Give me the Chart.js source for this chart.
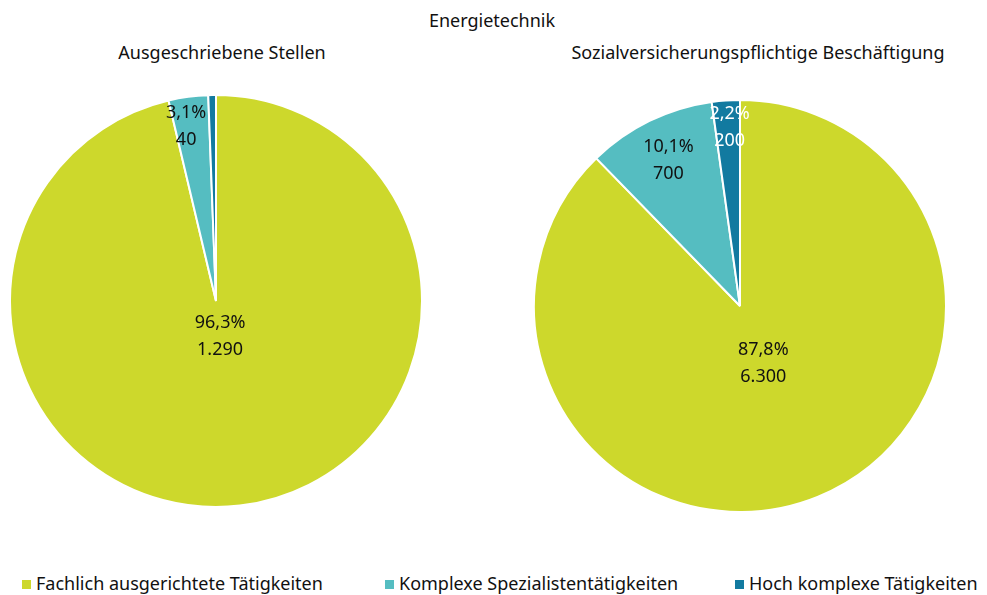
<!DOCTYPE html>
<html>
<head>
<meta charset="utf-8">
<script src="https://cdn.jsdelivr.net/npm/chart.js@4"></script>
<style>
  body { margin: 0; background: #fff; font-family: "Noto Sans", sans-serif; color: #111; }
  #wrap { position: relative; width: 987px; height: 595px; overflow: hidden; }
  .txt { position: absolute; font-size: 18px; white-space: nowrap; transform: translateX(-50%); }
  .box { position: absolute; }
  #legend { position: absolute; top: 571px; left: 0; width: 987px; font-size: 18px; }
  .item { position: absolute; white-space: nowrap; }
  .item span.sw { display: inline-block; width: 9px; height: 9px; margin-right: 5px; vertical-align: 1px; }
</style>
</head>
<body>
<div id="wrap">
  <div class="txt" style="left:492px; top:8px;">Energietechnik</div>
  <div class="txt" style="left:222px; top:40px;">Ausgeschriebene Stellen</div>
  <div class="txt" style="left:758px; top:40px;">Sozialversicherungspflichtige Beschäftigung</div>
  <div class="box" style="left:9px; top:94px; width:414px; height:414px;"><canvas id="left"></canvas></div>
  <div class="box" style="left:533px; top:99px; width:414px; height:414px;"><canvas id="right"></canvas></div>
  <div id="legend"></div>
</div>
<script>
const categories = ['Fachlich ausgerichtete Tätigkeiten', 'Komplexe Spezialistentätigkeiten', 'Hoch komplexe Tätigkeiten'];
const colors = ['#CDD82C', '#55BDC1', '#127AA0'];

// Ausgeschriebene Stellen
const stellenShare = [96.3, 3.1, 0.6];
const stellenCount = ['1.290', '40', ''];
// Sozialversicherungspflichtige Beschäftigung
const beschShare = [87.8, 10.1, 2.2];
const beschCount = ['6.300', '700', '200'];

const fmt = v => v.toFixed(1).replace('.', ',') + '%';

// draws "share / count" labels inside the slices
const sliceLabels = {
  id: 'sliceLabels',
  afterDatasetsDraw(chart, args, opts) {
    const ctx = chart.ctx;
    const meta = chart.getDatasetMeta(0);
    const ds = chart.data.datasets[0];
    ctx.save();
    ctx.font = '18px "Noto Sans", sans-serif';
    ctx.textAlign = 'center';
    ctx.textBaseline = 'middle';
    meta.data.forEach((arc, i) => {
      if (!opts.counts[i]) return;
      const mid = (arc.startAngle + arc.endAngle) / 2;
      const r = arc.outerRadius * opts.radius[i];
      const x = arc.x + Math.cos(mid) * r + opts.dx[i];
      const y = arc.y + Math.sin(mid) * r;
      ctx.fillStyle = opts.textColor[i];
      ctx.fillText(fmt(ds.data[i]), x, y - 13);
      ctx.fillText(opts.counts[i], x, y + 14);
    });
    ctx.restore();
  }
};

function makePie(id, shares, counts, radius, dx, textColor) {
  new Chart(document.getElementById(id), {
    type: 'pie',
    data: {
      labels: categories,
      datasets: [{
        data: shares,
        backgroundColor: colors,
        borderColor: '#ffffff',
        borderWidth: 2
      }]
    },
    options: {
      responsive: true,
      maintainAspectRatio: false,
      animation: false,
      layout: { padding: 0 },
      plugins: {
        legend: { display: false },
        tooltip: { enabled: false },
        sliceLabels: { counts: counts, radius: radius, dx: dx, textColor: textColor }
      }
    },
    plugins: [sliceLabels]
  });
}

makePie('left', stellenShare, stellenCount, [0.17, 0.86, 0.9], [0, -6, 0], ['#111', '#111', '#fff']);
makePie('right', beschShare, beschCount, [0.3, 0.79, 0.87], [0, 0, 2], ['#111', '#111', '#fff']);

const legend = document.getElementById('legend');
const legendX = [22, 385, 735];
categories.forEach((c, i) => {
  const d = document.createElement('div');
  d.className = 'item';
  d.style.left = legendX[i] + 'px';
  d.innerHTML = '<span class="sw" style="background:' + colors[i] + '"></span>' + c;
  legend.appendChild(d);
});
</script>
</body>
</html>
